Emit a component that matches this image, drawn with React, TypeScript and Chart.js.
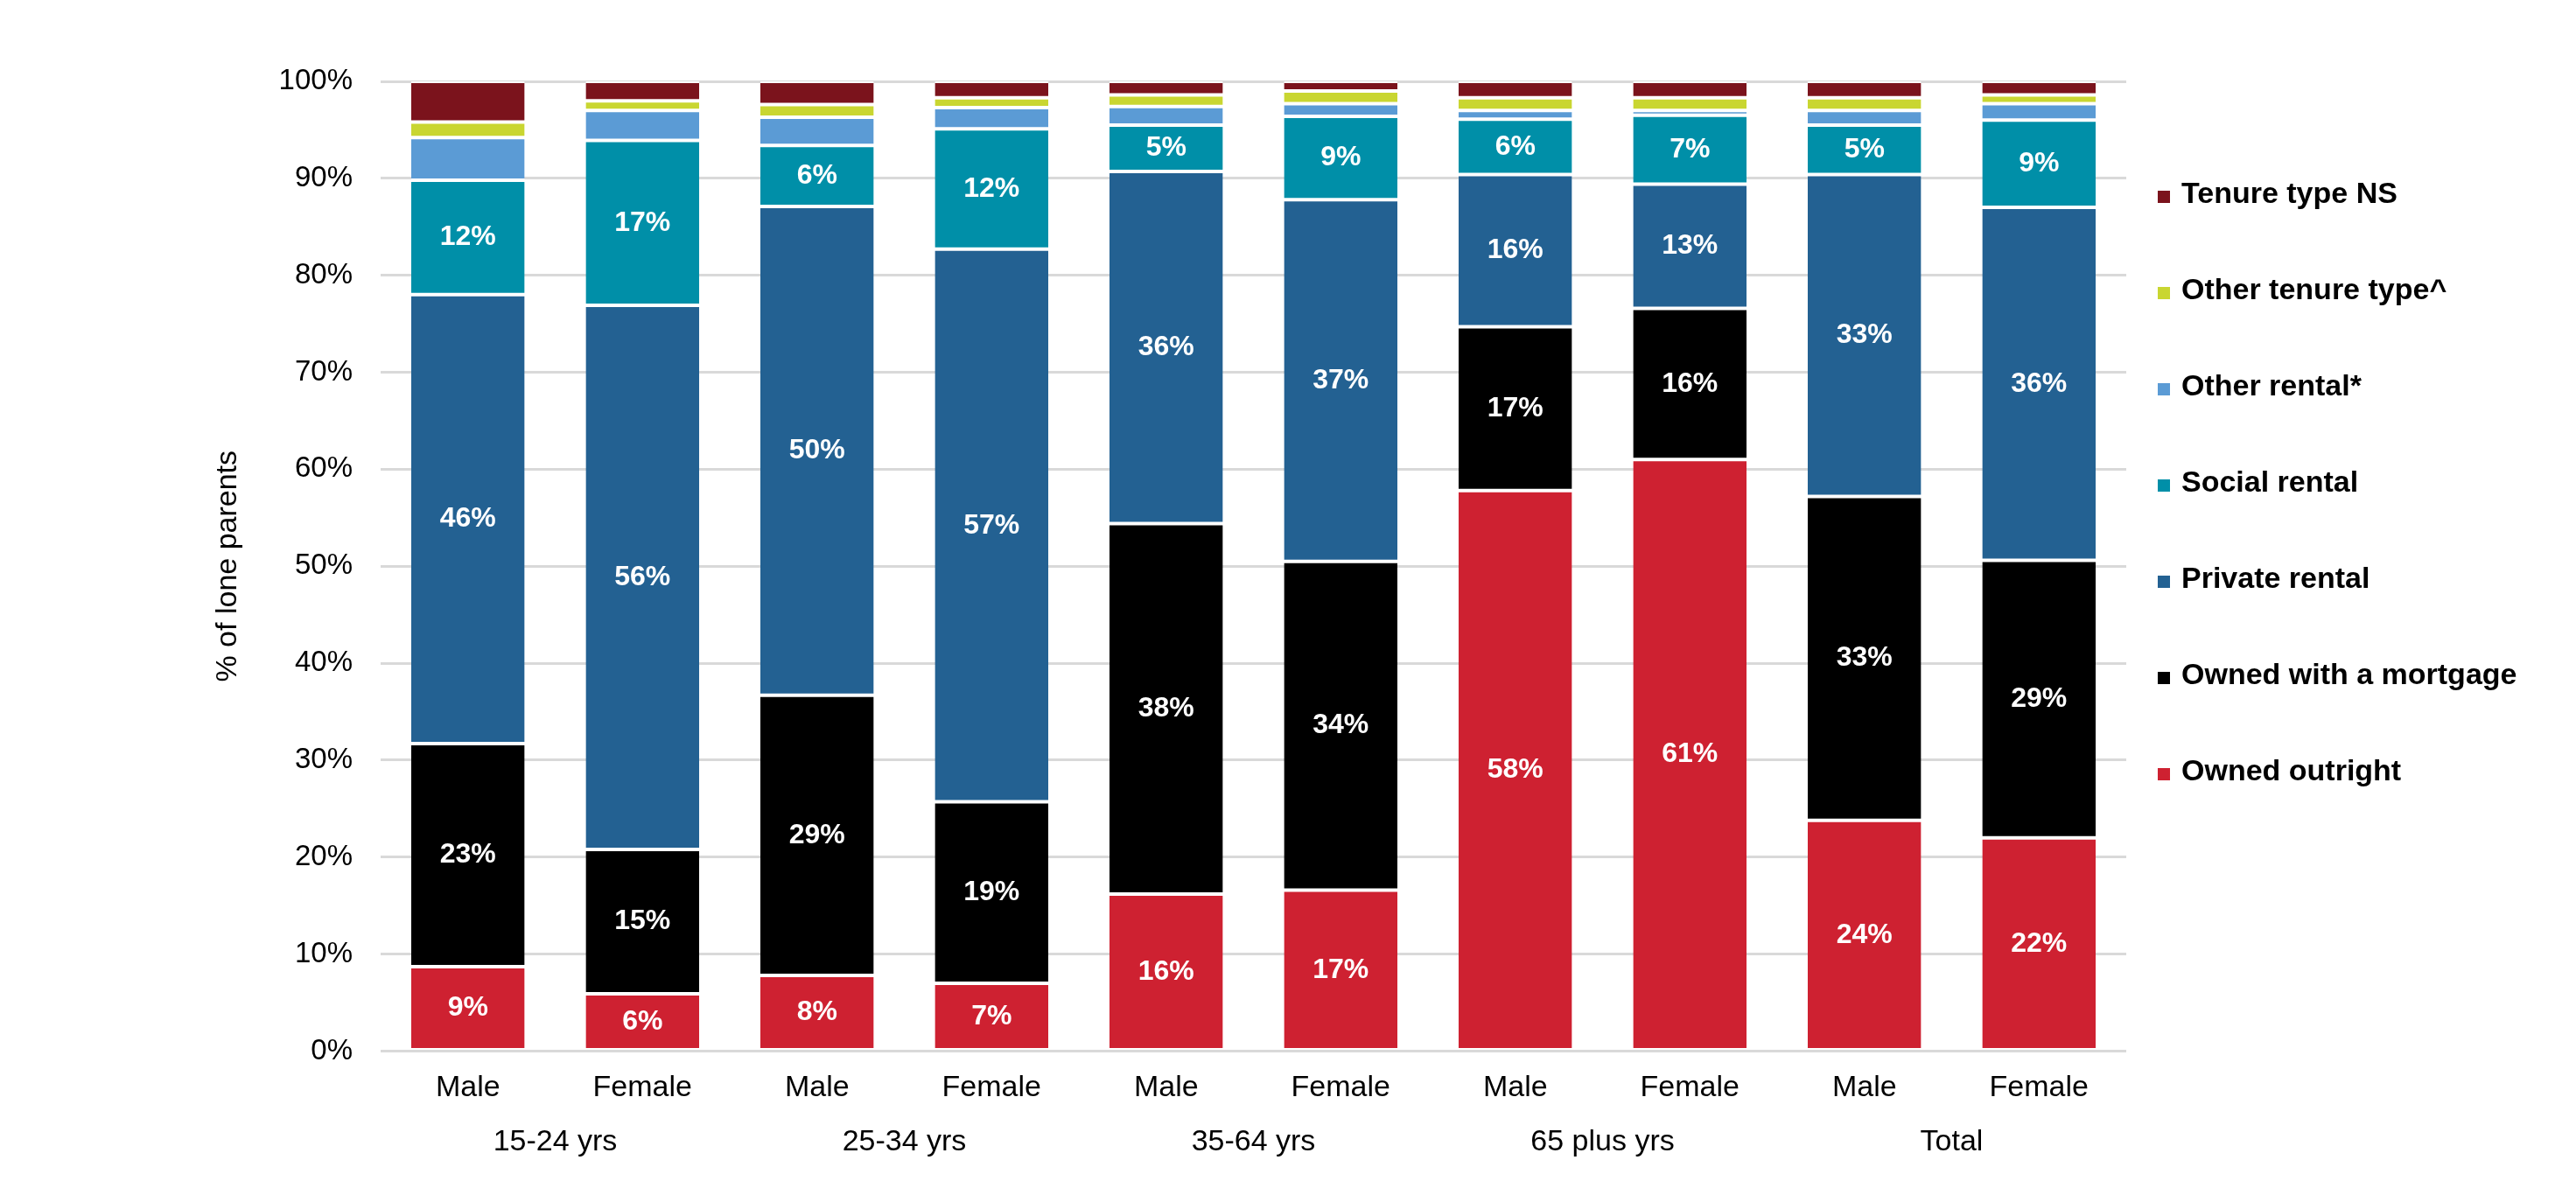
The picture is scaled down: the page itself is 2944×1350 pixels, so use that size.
import React, { useEffect, useRef } from 'react';
import { Chart, registerables } from 'chart.js';

Chart.register(...registerables);

const FONT = "'Liberation Sans', Arial, Helvetica, sans-serif";

const categories = ['Male', 'Female', 'Male', 'Female', 'Male', 'Female', 'Male', 'Female', 'Male', 'Female'];
const groups = ['15-24 yrs', '25-34 yrs', '35-64 yrs', '65 plus yrs', 'Total'];

const ownedOutright = [8.7, 5.9, 7.8, 7.0, 16.2, 16.6, 57.8, 61.0, 23.8, 22.0];
const ownedMortgage = [23.0, 14.9, 28.9, 18.7, 38.2, 33.9, 16.9, 15.6, 33.4, 28.6];
const privateRental = [46.3, 56.1, 50.4, 57.0, 36.3, 37.3, 15.7, 12.8, 33.2, 36.4];
const socialRental = [11.8, 17.0, 6.3, 12.4, 4.8, 8.6, 5.7, 7.1, 5.1, 9.0];
const otherRental = [4.4, 3.1, 2.9, 2.2, 1.9, 1.3, 0.9, 0.5, 1.5, 1.7];
const otherTenure = [1.6, 1.0, 1.3, 1.0, 1.2, 1.3, 1.3, 1.3, 1.3, 0.9];
const tenureNS = [4.2, 2.0, 2.4, 1.7, 1.4, 1.0, 1.7, 1.7, 1.7, 1.4];

const seriesLabels = [
  'Owned outright',
  'Owned with a mortgage',
  'Private rental',
  'Social rental',
  'Other rental*',
  'Other tenure type^',
  'Tenure type NS',
];
const seriesColors = ['#CE2131', '#000000', '#236192', '#008FA8', '#5B9BD5', '#C9D631', '#7B131C'];
const seriesData = [ownedOutright, ownedMortgage, privateRental, socialRental, otherRental, otherTenure, tenureNS];
const labelledSeries = [true, true, true, true, false, false, false];

const valueLabels = {
  id: 'valueLabels',
  afterDatasetsDraw(chart: any) {
    const ctx = chart.ctx;
    ctx.save();
    ctx.font = `bold 32px ${FONT}`;
    ctx.fillStyle = '#ffffff';
    ctx.textAlign = 'center';
    ctx.textBaseline = 'middle';
    chart.data.datasets.forEach((ds: any, i: number) => {
      if (!ds.showValue) return;
      const meta = chart.getDatasetMeta(i);
      meta.data.forEach((el: any, j: number) => {
        const p = el.getProps(['x', 'y', 'base'], true);
        ctx.fillText(Math.round(ds.data[j]) + '%', p.x, (p.y + p.base) / 2);
      });
    });
    ctx.restore();
  },
};

const sideLegend = {
  id: 'sideLegend',
  afterDraw(chart: any, _args: any, opts: any) {
    const { ctx, chartArea } = chart;
    const x0 = chartArea.right + opts.offsetX;
    const items = chart.data.datasets
      .map((d: any) => ({ label: d.label, color: d.backgroundColor }))
      .reverse();
    ctx.save();
    ctx.font = `bold 34px ${FONT}`;
    ctx.textAlign = 'left';
    ctx.textBaseline = 'middle';
    items.forEach((it: any, i: number) => {
      const cy = chartArea.top + opts.firstOffset + i * opts.spacing;
      ctx.fillStyle = it.color;
      ctx.fillRect(x0, cy - 5, 14, 14);
      ctx.fillStyle = '#000000';
      ctx.fillText(it.label, x0 + 27, cy);
    });
    ctx.restore();
  },
};

export default function App() {
  const canvasRef = useRef<HTMLCanvasElement | null>(null);

  useEffect(() => {
    if (!canvasRef.current) return;
    Chart.defaults.font.family = FONT;
    Chart.defaults.color = '#000000';

    const datasets = seriesLabels.map((label, i) => ({
      label,
      data: seriesData[i],
      backgroundColor: seriesColors[i],
      borderColor: '#ffffff',
      borderWidth: { top: 2, bottom: 2, left: 0, right: 0 },
      borderSkipped: false,
      categoryPercentage: 0.65,
      barPercentage: 1,
      showValue: labelledSeries[i],
    }));

    const chart = new Chart(canvasRef.current, {
      type: 'bar',
      data: { labels: categories, datasets: datasets as any },
      plugins: [valueLabels, sideLegend],
      options: {
        animation: false,
        responsive: true,
        maintainAspectRatio: false,
        layout: { padding: { top: 93, right: 514, bottom: 0, left: 0 } },
        plugins: {
          legend: { display: false },
          tooltip: { enabled: false },
          sideLegend: { offsetX: 36, firstOffset: 130, spacing: 110 },
        } as any,
        scales: {
          x: {
            stacked: true,
            offset: true,
            grid: { display: false, drawTicks: false },
            border: { display: false },
            ticks: { font: { size: 34 }, color: '#000000', padding: 22, maxRotation: 0, autoSkip: false },
            afterFit: (s: any) => {
              s.height = 60;
            },
          },
          x2: {
            type: 'category',
            labels: groups,
            position: 'bottom',
            offset: true,
            weight: 1,
            grid: { display: false, drawTicks: false },
            border: { display: false },
            ticks: { font: { size: 34 }, color: '#000000', padding: 24, maxRotation: 0, autoSkip: false },
            afterFit: (s: any) => {
              s.height = 88.5;
            },
          },
          y: {
            stacked: true,
            min: 0,
            max: 100,
            ticks: {
              stepSize: 10,
              callback: (v: any) => v + '%',
              font: { size: 33 },
              color: '#000000',
              padding: 32,
            },
            grid: { color: '#d9d9d9', lineWidth: 3, drawTicks: false },
            border: { display: false },
            title: {
              display: true,
              text: '% of lone parents',
              font: { size: 34 },
              color: '#000000',
              padding: { top: 240, bottom: 0 },
            },
            afterFit: (s: any) => {
              s.width = 435;
            },
          },
        } as any,
      },
    });

    return () => chart.destroy();
  }, []);

  return (
    <div style={{ position: 'fixed', left: 0, top: 0, width: '100vw', height: '100vh', background: '#ffffff' }}>
      <canvas ref={canvasRef} />
    </div>
  );
}
